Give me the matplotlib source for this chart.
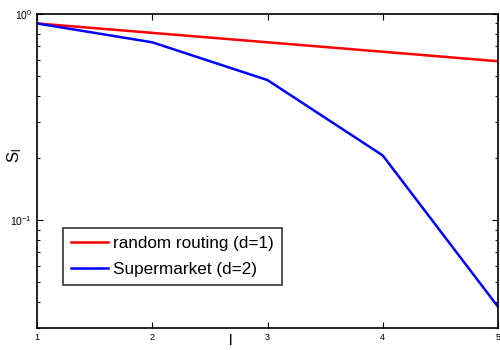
import matplotlib
matplotlib.use("Agg")
import matplotlib.pyplot as plt
from matplotlib.ticker import LogLocator, NullFormatter

plt.rcParams['font.family'] = ['Liberation Sans', 'DejaVu Sans']
plt.rcParams['mathtext.fontset'] = 'custom'
plt.rcParams['mathtext.rm'] = 'Liberation Sans'
plt.rcParams['mathtext.it'] = 'Liberation Sans'

levels = [1, 2, 3, 4, 5]
random_routing = [0.9, 0.81, 0.729, 0.656, 0.59]
supermarket = [0.9, 0.729, 0.478, 0.206, 0.038]
series_labels = ["random routing (d=1)", "Supermarket (d=2)"]

fig = plt.figure(figsize=(5, 3.5), dpi=100)
ax = fig.add_axes([0.074, 0.063, 0.922, 0.897])
ax.plot(levels, random_routing, color='#ff0000', lw=1.8, label=series_labels[0])
ax.plot(levels, supermarket, color='#0000ff', lw=1.8, label=series_labels[1])
ax.set_yscale('log')
ax.set_xlim(1, 5)
ax.set_ylim(0.03, 1)
ax.set_xticks(levels)
ax.set_xticklabels([str(v) for v in levels])
ax.yaxis.set_major_locator(LogLocator(base=10))
ax.yaxis.set_minor_locator(LogLocator(base=10, subs=range(2, 10)))
ax.yaxis.set_minor_formatter(NullFormatter())
ax.tick_params(which='both', direction='in', top=True, right=True, labelsize=6.5, width=0.8)
ax.tick_params(axis='y', labelsize=7.5)
ax.tick_params(which='major', length=4)
ax.tick_params(which='minor', length=2.5)
for s in ax.spines.values():
    s.set_linewidth(1.2)
ax.set_xlabel("l", fontsize=11)
ax.xaxis.set_label_coords(0.42, -0.018)
ax.set_ylabel(r"S$_\mathrm{l}$", fontsize=12)
ax.yaxis.set_label_coords(-0.028, 0.55)
leg = ax.legend(loc='lower left', bbox_to_anchor=(0.056, 0.137), borderaxespad=0,
                fontsize=12.3, frameon=True, fancybox=False, edgecolor='black',
                handlelength=2.2, handletextpad=0.3, borderpad=0.45,
                labelspacing=0.65)
leg.get_frame().set_linewidth(1.2)
fig.savefig("out.png", dpi=100)
